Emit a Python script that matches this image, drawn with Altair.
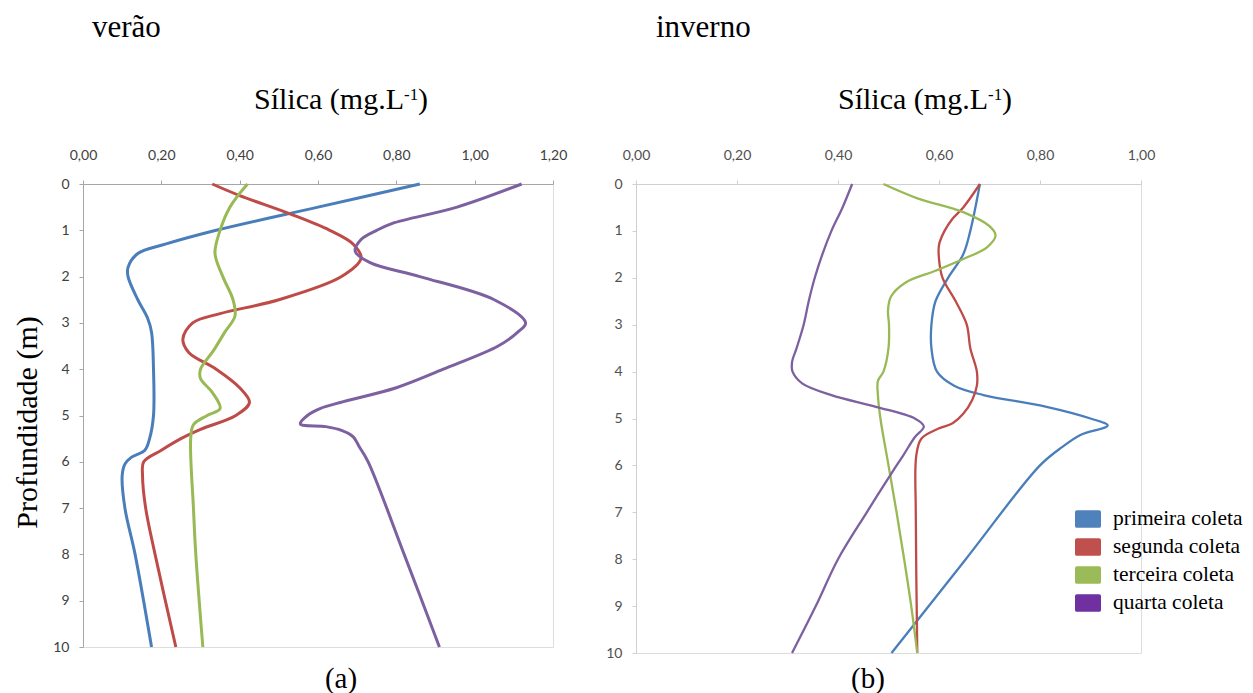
import altair as alt
import pandas as pd

SERIES = ["primeira coleta", "segunda coleta", "terceira coleta", "quarta coleta"]
LINE_COLORS = ["#4A7EBB", "#BE4B48", "#98B954", "#7D60A0"]
LEGEND_COLORS = ["#4F81BD", "#C0504D", "#9BBB59", "#7030A0"]

# ---- verão (a) ----
v_blue_depth = [0, 0.5, 1.0, 1.3, 1.5, 1.8, 2.0, 2.5, 2.9, 3.2, 4.0, 5.0, 5.5, 5.75, 5.9, 6.05, 6.3, 7.0, 8.0, 10.0]
v_blue_val = [0.86, 0.60, 0.34, 0.21, 0.14, 0.115, 0.115, 0.14, 0.165, 0.175, 0.18, 0.18, 0.17, 0.158, 0.124, 0.107, 0.10, 0.107, 0.133, 0.175]
v_red_depth = [0, 0.25, 0.65, 1.0, 1.3, 1.6, 2.0, 2.5, 2.8, 3.0, 3.35, 3.64, 4.0, 4.4, 4.72, 5.0, 5.3, 5.5, 5.75, 6.0, 6.3, 7.0, 8.0, 10.0]
v_red_val = [0.33, 0.40, 0.53, 0.63, 0.69, 0.71, 0.66, 0.50, 0.35, 0.28, 0.255, 0.27, 0.34, 0.40, 0.425, 0.39, 0.30, 0.25, 0.20, 0.155, 0.152, 0.16, 0.184, 0.237]
v_green_depth = [0, 0.5, 1.0, 1.5, 2.0, 2.5, 2.85, 3.2, 3.6, 4.0, 4.2, 4.5, 4.85, 5.0, 5.2, 5.5, 7.0, 8.0, 10.0]
v_green_val = [0.42, 0.375, 0.35, 0.337, 0.357, 0.383, 0.388, 0.362, 0.333, 0.30, 0.30, 0.33, 0.35, 0.317, 0.282, 0.275, 0.282, 0.288, 0.306]
v_purple_depth = [0, 0.5, 0.85, 1.0, 1.2, 1.45, 1.7, 2.0, 2.5, 3.0, 3.2, 3.5, 4.0, 4.4, 4.7, 4.85, 5.0, 5.18, 5.24, 5.32, 5.46, 5.67, 6.0, 8.0, 10.0]
v_purple_val = [1.12, 0.955, 0.79, 0.75, 0.71, 0.695, 0.733, 0.86, 1.05, 1.13, 1.11, 1.06, 0.92, 0.80, 0.665, 0.605, 0.573, 0.555, 0.62, 0.66, 0.69, 0.705, 0.728, 0.82, 0.91]

# ---- inverno (b) ----
i_blue_depth = [0, 1.0, 1.5, 2.0, 2.5, 3.0, 3.5, 4.0, 4.3, 4.5, 4.75, 5.0, 5.15, 5.35, 5.6, 6.0, 8.0, 10.0]
i_blue_val = [0.681, 0.662, 0.648, 0.618, 0.593, 0.585, 0.585, 0.596, 0.63, 0.688, 0.813, 0.90, 0.934, 0.88, 0.845, 0.80, 0.653, 0.506]
i_red_depth = [0, 0.5, 0.75, 1.0, 1.3, 1.6, 2.0, 2.5, 3.0, 3.5, 4.0, 4.3, 4.6, 4.9, 5.1, 5.22, 5.43, 5.79, 7.0, 10.0]
i_red_val = [0.681, 0.648, 0.626, 0.611, 0.60, 0.60, 0.607, 0.633, 0.655, 0.662, 0.675, 0.675, 0.666, 0.648, 0.627, 0.598, 0.565, 0.555, 0.554, 0.557]
i_green_depth = [0, 0.3, 0.6, 0.9, 1.1, 1.35, 1.6, 1.85, 2.1, 2.4, 2.7, 3.0, 3.5, 4.0, 4.2, 4.5, 5.0, 6.0, 7.0, 8.0, 9.0, 10.0]
i_green_val = [0.49, 0.556, 0.648, 0.70, 0.712, 0.695, 0.648, 0.593, 0.534, 0.505, 0.499, 0.501, 0.50, 0.49, 0.479, 0.479, 0.484, 0.50, 0.516, 0.531, 0.545, 0.557]
i_purple_depth = [0, 0.5, 1.0, 1.5, 2.0, 2.5, 3.0, 3.5, 3.8, 4.0, 4.25, 4.5, 4.75, 5.0, 5.17, 5.4, 5.79, 6.0, 7.0, 8.0, 9.0, 10.0]
i_purple_val = [0.428, 0.409, 0.387, 0.369, 0.354, 0.342, 0.332, 0.318, 0.309, 0.31, 0.329, 0.387, 0.475, 0.552, 0.570, 0.552, 0.529, 0.516, 0.457, 0.40, 0.356, 0.309]

X_TICKS_A = [0, 0.2, 0.4, 0.6, 0.8, 1.0, 1.2]
X_TICKS_B = [0, 0.2, 0.4, 0.6, 0.8, 1.0]
Y_TICKS = list(range(11))

SERIF = "Liberation Serif"
LABEL_FONT = "Lato"
X_TITLE_MAIN = "Sílica (mg.L"
X_TITLE_SUP = "-1"
X_TITLE_END = ")"


def make_df(pairs):
    rows = []
    for name, (d, v) in zip(SERIES, pairs):
        for i, (dd, vv) in enumerate(zip(d, v)):
            rows.append({"serie": name, "prof": dd, "silica": vv, "i": i})
    return pd.DataFrame(rows)


df_a = make_df([(v_blue_depth, v_blue_val), (v_red_depth, v_red_val),
                (v_green_depth, v_green_val), (v_purple_depth, v_purple_val)])
df_b = make_df([(i_blue_depth, i_blue_val), (i_red_depth, i_red_val),
                (i_green_depth, i_green_val), (i_purple_depth, i_purple_val)])

LABEL_EXPR = "replace(format(datum.value, '.2f'), '.', ',')"


def txt(s, x, y, size, align="left", baseline="alphabetic"):
    return alt.Chart(pd.DataFrame({"t": [s]})).mark_text(
        font=SERIF, fontSize=size, align=align, baseline=baseline, color="black"
    ).encode(text="t:N", x=alt.value(x), y=alt.value(y))


def panel(df, xmax, xticks, w, h, season, season_x, letter, letter_x, sw, axcol,
          labcol, ytitle, title_end_x, legend=False):
    x_enc = alt.X(
        "silica:Q",
        scale=alt.Scale(domain=[0, xmax], nice=False, zero=False),
        axis=alt.Axis(orient="top", values=xticks, labelExpr=LABEL_EXPR, title=None,
                      labelFont=LABEL_FONT, labelFontSize=14, labelColor=labcol,
                      labelPadding=18, labelFlush=False, labelOverlap=False,
                      domainColor=axcol, tickColor=axcol, tickSize=4, grid=False),
    )
    yaxis_kwargs = dict(values=Y_TICKS, format="d", labelFont=LABEL_FONT, labelFontSize=14,
                        labelColor=labcol, labelPadding=10, labelFlush=False,
                        domainColor=axcol, tickColor=axcol, tickSize=4, grid=False)
    if ytitle:
        yaxis_kwargs.update(title=ytitle, titleFont=SERIF, titleFontSize=30,
                            titleFontWeight="normal", titleColor="black", titlePadding=10,
                            titleY=238)
    else:
        yaxis_kwargs.update(title=None)
    y_enc = alt.Y("prof:Q", scale=alt.Scale(domain=[0, 10], reverse=True, nice=False),
                  axis=alt.Axis(**yaxis_kwargs))

    lines = alt.Chart(df).mark_line(interpolate="catmull-rom", strokeWidth=sw).encode(
        x=x_enc, y=y_enc,
        color=alt.Color("serie:N", scale=alt.Scale(domain=SERIES, range=LINE_COLORS), legend=None),
        order=alt.Order("i:Q"),
    )

    layers = [lines]
    if legend:
        leg = alt.Chart(df).mark_point(filled=True, opacity=0).encode(
            x="silica:Q", y="prof:Q",
            color=alt.Color(
                "serie:N",
                scale=alt.Scale(domain=SERIES, range=LEGEND_COLORS),
                legend=alt.Legend(
                    title=None, orient="none", legendX=439, legendY=322,
                    symbolType="M-0.85,-0.68H0.85Q1,-0.68 1,-0.53V0.53Q1,0.68 0.85,0.68H-0.85Q-1,0.68 -1,0.53V-0.53Q-1,-0.68 -0.85,-0.68Z",
                    symbolSize=676, symbolStrokeWidth=0, symbolOpacity=1,
                    labelFont=SERIF, labelFontSize=21.5, labelColor="black",
                    labelOffset=12, rowPadding=4, padding=0, labelLimit=300,
                ),
            ),
        )
        layers.append(leg)
    layers += [
        txt(season, season_x, -147, 31),
        txt(X_TITLE_MAIN, title_end_x, -75, 30, align="right"),
        txt(X_TITLE_SUP, title_end_x, -84, 17),
        txt(X_TITLE_END, title_end_x + 14, -75, 30),
        txt(letter, letter_x, 495, 29, align="center", baseline="middle"),
    ]
    ch = alt.layer(*layers).properties(width=w, height=h)
    if legend:
        ch = ch.resolve_scale(color="independent")
    return ch


left = panel(df_a, 1.2, X_TICKS_A, 470, 463, "verão", 9, "(a)", 258, 3.0, "#A6A6A6",
             "#404040", "Profundidade (m)", 321)
right = panel(df_b, 1.0, X_TICKS_B, 505, 469, "inverno", 20, "(b)", 232, 2.3, "#D0D0D0",
              "#505050", None, 352, legend=True)

chart = alt.hconcat(left, right, spacing=37).properties(
    padding={"left": 4, "top": 3, "right": 0, "bottom": 0}
).configure_view(stroke=None).configure(background="white")

chart.save("out.html", embed_options={"renderer": "svg", "actions": False})
